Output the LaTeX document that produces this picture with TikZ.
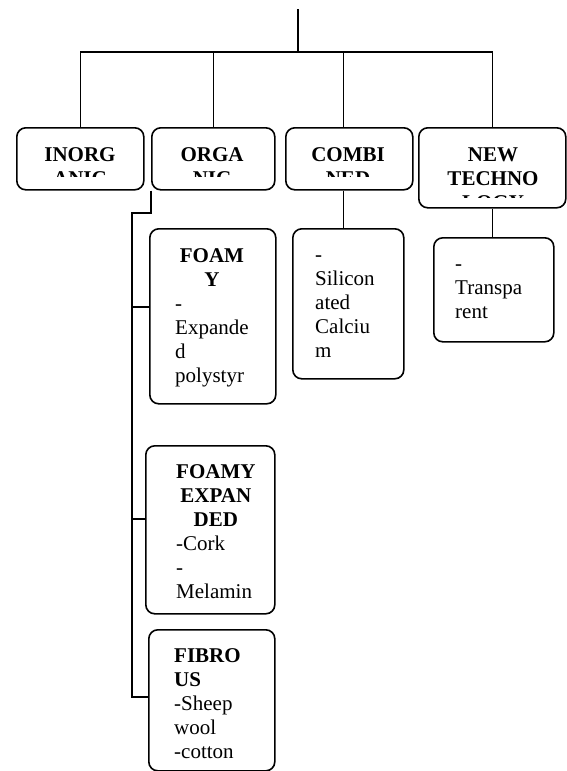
\documentclass[tikz,border=0pt]{standalone}
\usepackage{fontspec}
\setmainfont{Liberation Serif}
\usetikzlibrary{calc}
\newcommand{\hd}[1]{\multicolumn{1}{@{}c@{}}{\bfseries #1}}
\begin{document}
\begin{tikzpicture}[x=1pt,y=-1pt,
  box/.style={draw,line width=1.6pt,rounded corners=9pt,rectangle,inner sep=0pt,anchor=north west},
  conn/.style={line width=1.6pt},
  txt/.style={inner sep=0pt,font=\fontsize{21}{24}\selectfont}]
\useasboundingbox (0,0) rectangle (566,771);

% boxes
\node[box,minimum width=127pt,minimum height=62pt] (inorg) at (16,127) {};
\node[box,minimum width=123pt,minimum height=62pt] (orga) at (151,127) {};
\node[box,minimum width=127pt,minimum height=62pt] (comb) at (285,127) {};
\node[box,minimum width=147pt,minimum height=80pt] (newt) at (418,127) {};
\node[box,minimum width=126pt,minimum height=175pt] (foamy) at (149,228) {};
\node[box,minimum width=111pt,minimum height=150pt] (sil) at (292,228) {};
\node[box,minimum width=120pt,minimum height=104pt] (transp) at (433,237) {};
\node[box,minimum width=129pt,minimum height=168pt] (fexp) at (145,445) {};
\node[box,minimum width=126pt,minimum height=141pt] (fibro) at (148,629) {};

% texts (clipped as in the reference)
\begin{scope}
\clip (16,127) rectangle (143,176);
\node[txt,anchor=base] (inorgT) at (80,161) {\begin{tabular}[t]{@{}c@{}}\bfseries INORG\\\bfseries ANIC\end{tabular}};
\end{scope}
\begin{scope}
\clip (151,127) rectangle (274,176);
\node[txt,anchor=base] (orgaT) at (212,161) {\begin{tabular}[t]{@{}c@{}}\bfseries ORGA\\\bfseries NIC\end{tabular}};
\end{scope}
\begin{scope}
\clip (285,127) rectangle (412,176);
\node[txt,anchor=base] (combT) at (348,161) {\begin{tabular}[t]{@{}c@{}}\bfseries COMBI\\\bfseries NED\end{tabular}};
\end{scope}
\begin{scope}
\clip (418,127) rectangle (565,197);
\node[txt,anchor=base] (newtT) at (493,161) {\begin{tabular}[t]{@{}c@{}}\bfseries NEW\\\bfseries TECHNO\\\bfseries LOGY\end{tabular}};
\end{scope}

\node[txt,anchor=base west] (foamyT) at (175,262) {\begin{tabular}[t]{@{}l@{}}\hd{FOAM}\\\hd{Y}\\-\\Expande\\d\\polystyr\end{tabular}};
\node[txt,anchor=base west] (silT) at (315,261) {\begin{tabular}[t]{@{}l@{}}-\\Silicon\\ated\\Calciu\\m\end{tabular}};
\node[txt,anchor=base west] (transpT) at (455,270) {\begin{tabular}[t]{@{}l@{}}-\\Transpa\\rent\end{tabular}};
\node[txt,anchor=base west] (fexpT) at (176,478) {\begin{tabular}[t]{@{}l@{}}\hd{FOAMY}\\\hd{EXPAN}\\\hd{DED}\\-Cork\\-\\Melamin\end{tabular}};
\node[txt,anchor=base west] (fibroT) at (174,662) {\begin{tabular}[t]{@{}l@{}}\bfseries FIBRO\\\bfseries US\\-Sheep\\wool\\-cotton\end{tabular}};

% connectors
\coordinate (top) at (298,9);
\coordinate (hub) at (298,52);
\draw[conn] (top) -- (hub);
\draw[conn] (inorg.north) |- (hub);
\draw[conn] (newt.north) |- (hub);
\draw[conn] (orga.north) -- (orga.north |- hub);
\draw[conn] ([xshift=-6pt]comb.north) -- ([xshift=-6pt]comb.north |- hub);
\draw[conn] ([xshift=-6pt]comb.south) -- ([xshift=-6pt]comb.south |- sil.north);
\draw[conn] (newt.south) -- (newt.south |- transp.north);

\coordinate (trunk) at (132,213);
\coordinate (b1) at (132,307);
\coordinate (b2) at (132,519);
\coordinate (b3) at (132,697);
\draw[conn] (orga.south west) |- (trunk) -- (b3) -- (b3 -| fibro.west);
\draw[conn] (b1) -- (b1 -| foamy.west);
\draw[conn] (b2) -- (b2 -| fexp.west);
\end{tikzpicture}
\end{document}
